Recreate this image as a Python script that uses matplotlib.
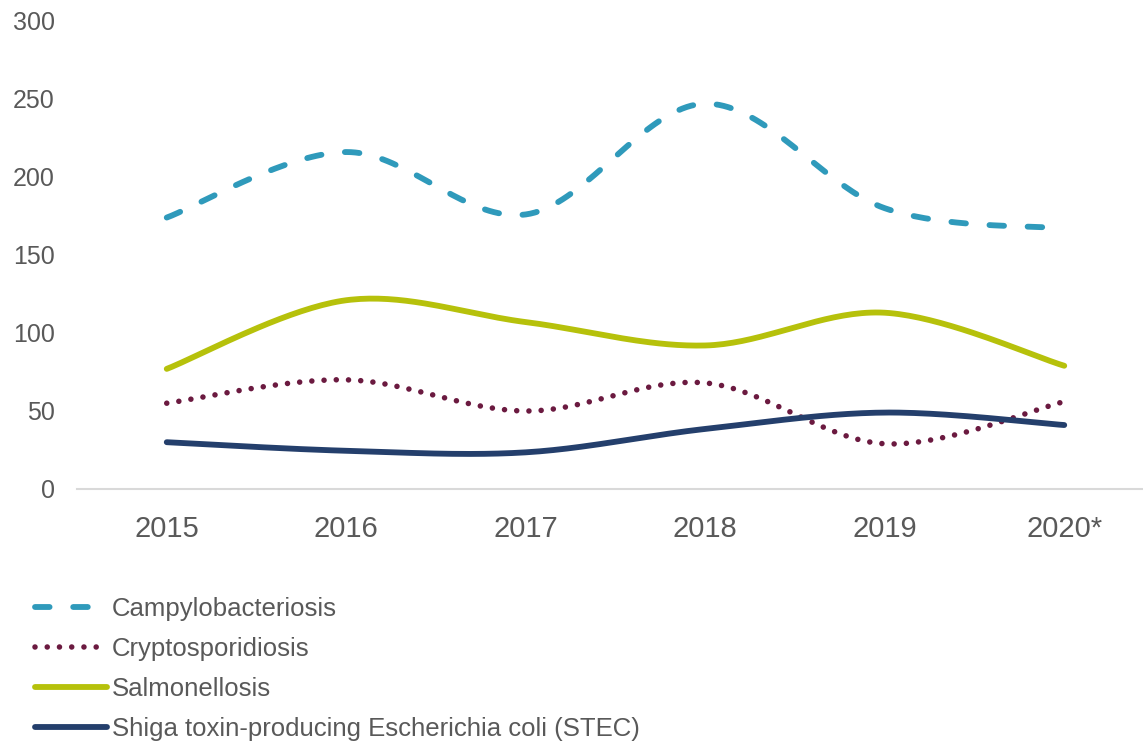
import numpy as np
import matplotlib
matplotlib.use("Agg")
import matplotlib.pyplot as plt
from matplotlib import font_manager

# reported cases per year
years = ["2015", "2016", "2017", "2018", "2019", "2020*"]
campylo = [174, 216, 176, 247, 180, 167]
crypto = [55, 70, 50, 68, 29, 56]
salmonella = [77, 121, 107, 92, 113, 79]
stec = [30, 24.5, 23.5, 38.5, 49, 41]

names = ["Campylobacteriosis", "Cryptosporidiosis", "Salmonellosis",
         "Shiga toxin-producing Escherichia coli (STEC)"]
colors = ["#2F9ABB", "#6B1A40", "#B6C10B", "#243F6C"]

plt.rcParams['lines.scale_dashes'] = False
avail = {f.name for f in font_manager.fontManager.ttflist}
tick_font = "Liberation Sans" if "Liberation Sans" in avail else "DejaVu Sans"
leg_font = "Liberation Sans Narrow" if "Liberation Sans Narrow" in avail else tick_font
plt.rcParams['font.family'] = [tick_font, 'DejaVu Sans']


def smooth(y, n=40):
    # bezier smoothing through every point, like spreadsheet "smoothed line"
    x = np.arange(len(y), dtype=float)
    y = np.asarray(y, dtype=float)
    px = np.concatenate([[x[0]], x, [x[-1]]])
    py = np.concatenate([[y[0]], y, [y[-1]]])
    xs, ys = [], []
    t = np.linspace(0, 1, n)
    for i in range(len(y) - 1):
        p0 = np.array([x[i], y[i]])
        p3 = np.array([x[i + 1], y[i + 1]])
        p1 = p0 + (np.array([px[i + 2], py[i + 2]]) - np.array([px[i], py[i]])) / 6
        p2 = p3 - (np.array([px[i + 3], py[i + 3]]) - np.array([px[i + 1], py[i + 1]])) / 6
        b = ((1 - t) ** 3)[:, None] * p0 + (3 * (1 - t) ** 2 * t)[:, None] * p1 \
            + (3 * (1 - t) * t ** 2)[:, None] * p2 + (t ** 3)[:, None] * p3
        xs.append(b[:, 0])
        ys.append(b[:, 1])
    return np.concatenate(xs), np.concatenate(ys)


fig = plt.figure(figsize=(11.43, 7.43), dpi=100)
ax = fig.add_axes([77 / 1143, 1 - 489 / 743, 1077 / 1143, 468 / 743])

series = [campylo, crypto, salmonella, stec]
handles = []
for vals, name, c in zip(series, names, colors):
    sx, sy = smooth(vals)
    if name.startswith("Campylo"):
        ln, = ax.plot(sx, sy, color=c, lw=4.2, dash_capstyle='round',
                      solid_capstyle='round', label=name)
        ln.set_dashes((10.5, 17))
    elif name.startswith("Crypto"):
        ln, = ax.plot(sx, sy, color=c, lw=4.0, dash_capstyle='round', label=name)
        ln.set_dashes((0.01, 8.8))
    else:
        ln, = ax.plot(sx, sy, color=c, lw=4.2, solid_capstyle='round', label=name)
    handles.append(ln)

ax.set_xlim(-0.5, 5.5)
ax.set_ylim(0, 300)
ax.set_yticks(range(0, 301, 50))
ax.set_xticks(range(len(years)))
ax.set_xticklabels(years)
for s in ["top", "right", "left"]:
    ax.spines[s].set_visible(False)
ax.spines["bottom"].set_color("#D9D9D9")
ax.spines["bottom"].set_linewidth(1.5)
ax.tick_params(axis="x", length=0, pad=19, labelsize=21, labelcolor="#595959")
ax.tick_params(axis="y", length=0, pad=16, labelsize=18, labelcolor="#595959")

leg = fig.legend(handles=handles, loc="upper left", bbox_to_anchor=(35 / 1143, 1 - 597 / 743),
                 frameon=False, handlelength=2.8, handletextpad=0.2, labelspacing=0.62,
                 borderaxespad=0, borderpad=0,
                 prop={"family": leg_font, "size": 18.5})
for t in leg.get_texts():
    t.set_color("#595959")

fig.savefig("out.png", dpi=100)
